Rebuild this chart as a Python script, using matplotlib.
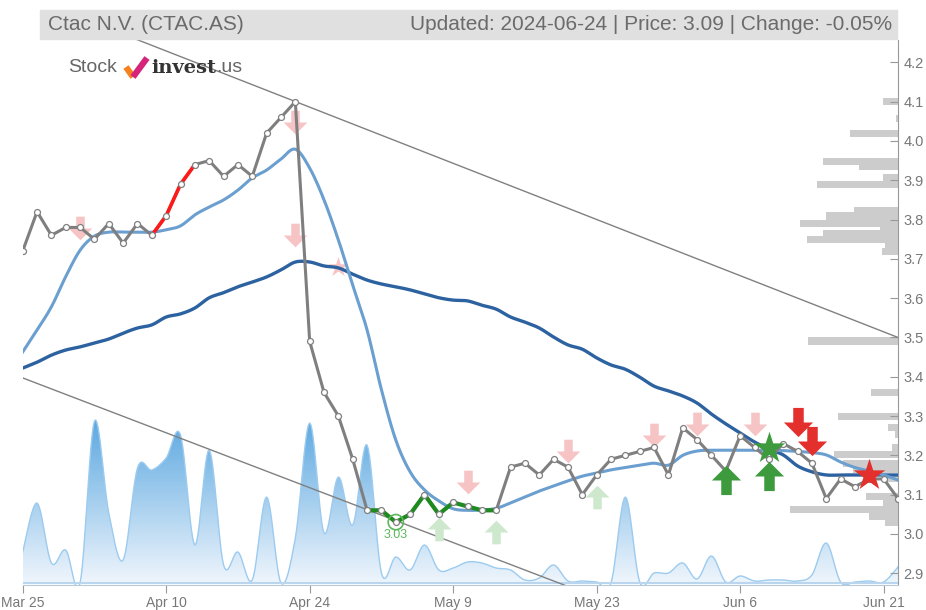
import numpy as np
import matplotlib
matplotlib.use("Agg")
import matplotlib.pyplot as plt
from matplotlib.path import Path
from matplotlib.patches import Rectangle
from matplotlib.lines import Line2D
from matplotlib.colors import LinearSegmentedColormap

plt.rcParams['font.family'] = ['Liberation Sans', 'DejaVu Sans']

# daily closes, Mar 25 .. Jun 24 (trading days)
price = [3.72, 3.82, 3.76, 3.78, 3.78, 3.75, 3.79, 3.74, 3.79, 3.76,
         3.81, 3.89, 3.94, 3.95, 3.91, 3.94, 3.91, 4.02, 4.06, 4.10,
         3.49, 3.36, 3.30, 3.19, 3.06, 3.06, 3.03, 3.05, 3.10, 3.05,
         3.08, 3.07, 3.06, 3.06, 3.17, 3.18, 3.15, 3.19, 3.17, 3.10,
         3.15, 3.19, 3.20, 3.21, 3.22, 3.15, 3.27, 3.24, 3.20, 3.16,
         3.25, 3.22, 3.19, 3.23, 3.21, 3.18, 3.09, 3.14, 3.12, 3.14,
         3.14, 3.09]

ma_short = [3.463, 3.519, 3.578, 3.655, 3.722, 3.758, 3.768, 3.768, 3.768, 3.768,
            3.774, 3.784, 3.812, 3.832, 3.850, 3.875, 3.906, 3.926, 3.954, 3.979,
            3.931, 3.850, 3.748, 3.633, 3.519, 3.367, 3.239, 3.158, 3.112, 3.084,
            3.064, 3.060, 3.061, 3.065, 3.079, 3.094, 3.109, 3.122, 3.135, 3.147,
            3.155, 3.163, 3.169, 3.175, 3.180, 3.175, 3.200, 3.211, 3.213, 3.213,
            3.213, 3.213, 3.213, 3.212, 3.210, 3.207, 3.201, 3.183, 3.169, 3.160,
            3.150, 3.137]

ma_long = [3.422, 3.437, 3.455, 3.468, 3.476, 3.486, 3.496, 3.511, 3.524, 3.532,
           3.552, 3.560, 3.575, 3.601, 3.614, 3.629, 3.641, 3.654, 3.672, 3.692,
           3.692, 3.682, 3.677, 3.661, 3.646, 3.636, 3.629, 3.621, 3.611, 3.601,
           3.595, 3.593, 3.582, 3.572, 3.552, 3.539, 3.524, 3.501, 3.481, 3.470,
           3.448, 3.430, 3.419, 3.399, 3.376, 3.364, 3.351, 3.333, 3.305, 3.280,
           3.257, 3.234, 3.216, 3.201, 3.173, 3.158, 3.150, 3.150, 3.150, 3.150,
           3.150, 3.150]

volume = [31, 80, 20, 33, 0, 162, 70, 23, 115, 113,
          125, 148, 38, 133, 18, 31, 3, 86, 0, 45,
          160, 50, 106, 58, 138, 10, 26, 13, 38, 13,
          15, 21, 20, 15, 13, 3, 5, 18, 2, 2,
          1, 0, 86, 1, 10, 10, 20, 4, 27, 1,
          7, 2, 3, 3, 2, 8, 40, 1, 1, 2,
          1, 16]

profile_price = [4.100, 4.058, 4.018, 3.948, 3.934, 3.907, 3.889, 3.822, 3.809, 3.789,
                 3.774, 3.764, 3.749, 3.734, 3.718, 3.491, 3.361, 3.300, 3.271, 3.252,
                 3.221, 3.201, 3.180, 3.163, 3.141, 3.095, 3.079, 3.061, 3.044, 3.028]
profile_vol = [15, 2, 48, 75, 39, 15, 81, 44, 72, 98,
               18, 75, 91, 13, 16, 90, 27, 60, 10, 3,
               6, 64, 55, 45, 15, 32, 15, 108, 29, 13]

tick_idx = [0, 10, 20, 30, 40, 50, 60]
tick_labels = ['Mar 25', 'Apr 10', 'Apr 24', 'May 9', 'May 23', 'Jun 6', 'Jun 21']
y_ticks = [2.9, 3.0, 3.1, 3.2, 3.3, 3.4, 3.5, 3.6, 3.7, 3.8, 3.9, 4.0, 4.1, 4.2]

# trend channel (index, price)
upper_line = [(0, 4.372), (61, 3.500)]
lower_line = [(0, 3.397), (61, 2.545)]

red_seg = (9, 12)
green_seg = (24, 33)
low_idx = 26

# signal markers: (index, price)
pink_down = [(4, 3.778), (19, 4.048), (19, 3.761), (31, 3.132), (38, 3.211),
             (44, 3.252), (47, 3.280), (51, 3.280)]
pink_star = [(22, 3.679)]
light_up = [(29, 3.012), (33, 3.005), (40, 3.094)]
green_up = [(49, 3.137), (52, 3.147)]
green_star = [(52, 3.218)]
red_down = [(54, 3.285), (55, 3.236)]
red_star = [(59, 3.150)]


def smooth(ys, n=12):
    ys = np.asarray(ys, float)
    xs = np.arange(len(ys), dtype=float)
    px = np.concatenate([[xs[0]], xs, [xs[-1]]])
    py = np.concatenate([[ys[0]], ys, [ys[-1]]])
    ox, oy = [], []
    t = np.linspace(0, 1, n, endpoint=False)
    for i in range(1, len(px) - 2):
        for p, o in ((px, ox), (py, oy)):
            p0, p1, p2, p3 = p[i - 1], p[i], p[i + 1], p[i + 2]
            o.extend(0.5 * (2 * p1 + (-p0 + p2) * t + (2 * p0 - 5 * p1 + 4 * p2 - p3) * t ** 2
                            + (-p0 + 3 * p1 - 3 * p2 + p3) * t ** 3))
    ox.append(xs[-1])
    oy.append(ys[-1])
    return np.array(ox), np.array(oy)


down_arrow = Path([(-0.18, 0.5), (0.18, 0.5), (0.18, 0.0), (0.5, 0.0), (0, -0.5),
                   (-0.5, 0.0), (-0.18, 0.0), (-0.18, 0.5)], closed=True)
up_arrow = Path([(x, -y) for x, y in down_arrow.vertices], closed=True)

W, H = 926, 610
fig = plt.figure(figsize=(W / 100, H / 100), dpi=100)
rect = [22.7 / W, 25 / H, 875.3 / W, 545 / H]
n = len(price)
ylo, yhi = 2.870, 4.257

# volume area
ax_v = fig.add_axes(rect)
ax_v.set_xlim(0, n - 1)
ax_v.set_ylim(-2, 543)
ax_v.axis('off')
vx, vy = smooth(volume)
poly = ax_v.fill_between(vx, vy, 0, color='none')
cmap = LinearSegmentedColormap.from_list('vol', ['#eef5fc', '#5aa7e0'])
grad = np.clip(np.linspace(0, 545, 300) / 165, 0, 1).reshape(-1, 1)
im = ax_v.imshow(grad, extent=[0, n - 1, 0, 545], origin='lower', aspect='auto',
                 cmap=cmap, vmin=0, vmax=1)
im.set_clip_path(poly.get_paths()[0], transform=ax_v.transData)
ax_v.plot(vx, vy, color='#9ccbef', lw=1)
ax_v.axhline(0, color='#b9d6ee', lw=1.5)

# volume profile
ax_p = fig.add_axes(rect)
ax_p.set_xlim(875.3, 0)
ax_p.set_ylim(ylo, yhi)
ax_p.axis('off')
ax_p.barh(profile_price, profile_vol, height=0.018, left=0, color='#cccccc')

# price axes
ax = fig.add_axes(rect)
ax.patch.set_visible(False)
ax.set_xlim(0, n - 1)
ax.set_ylim(ylo, yhi)
for s in ['top', 'left']:
    ax.spines[s].set_visible(False)
ax.spines['right'].set_color('#999999')
ax.spines['bottom'].set_color('#b9c9d8')
ax.yaxis.tick_right()
ax.set_yticks(y_ticks)
ax.set_yticklabels([f'{v:.1f}' for v in y_ticks])
ax.tick_params(axis='y', direction='in', length=6, color='#999999', labelcolor='#777777',
               labelsize=10.5, pad=4)
ax.set_xticks(tick_idx)
ax.set_xticklabels(tick_labels)
ax.tick_params(axis='x', direction='out', length=6, color='#999999', labelcolor='#777777',
               labelsize=10, pad=2)

for line in (upper_line, lower_line):
    ax.plot([line[0][0], line[1][0]], [line[0][1], line[1][1]], color='#808080', lw=1, zorder=2)

sx, sy = smooth(ma_long)
ax.plot(sx, sy, color='#2d62a0', lw=2.4, zorder=3)
sx, sy = smooth(ma_short)
ax.plot(sx, sy, color='#6a9fd0', lw=2.2, zorder=3)


def put(ax, pts, marker, size, color, z):
    ax.scatter([p[0] for p in pts], [p[1] for p in pts], marker=marker, s=size ** 2,
               color=color, linewidths=0, zorder=z)


put(ax, pink_down, down_arrow, 17, '#f6c4c4', 2.5)
put(ax, pink_star, '*', 15, '#f6c4c4', 2.5)
put(ax, light_up, up_arrow, 17, '#cde8cd', 2.5)

idx = np.arange(n)
ax.plot(idx, price, color='#7f7f7f', lw=2.2, zorder=4)
a, b = red_seg
ax.plot(idx[a:b + 1], price[a:b + 1], color='#ff1a1a', lw=2.6, zorder=4.5)
a, b = green_seg
ax.plot(idx[a:b + 1], price[a:b + 1], color='#1f8a1f', lw=3, zorder=4.5)
ax.plot(idx, price, ls='none', marker='o', ms=4.3, mfc='white', mec='#808080', mew=0.9, zorder=5)

ax.scatter([low_idx], [price[low_idx]], s=120, facecolors='none', edgecolors='#5cb85c',
           linewidths=1.2, zorder=5)
ax.text(low_idx, price[low_idx] - 0.032, f'{price[low_idx]:.2f}', color='#5cb85c',
        fontsize=9, ha='center', va='center', zorder=6)

put(ax, green_up, up_arrow, 21, '#3d9a3d', 6)
put(ax, green_star, '*', 24, '#3d9a3d', 6)
put(ax, red_down, down_arrow, 21, '#e3302d', 6)
put(ax, red_star, '*', 24, '#e3302d', 6)

# header bar
fig.patches.append(Rectangle((40 / W, 1 - 39 / H), 857 / W, 29 / H, transform=fig.transFigure,
                             color='#e0e0e0', zorder=0))
fig.text(48 / W, 1 - 24.5 / H, 'Ctac N.V. (CTAC.AS)', color='#6b6b6b', fontsize=15,
         ha='left', va='center')
fig.text(892 / W, 1 - 24.5 / H, 'Updated: 2024-06-24 | Price: 3.09 | Change: -0.05%',
         color='#6b6b6b', fontsize=15, ha='right', va='center')

# logo
t1 = fig.text(68 / W, 1 - 68 / H, 'Stock', color='#666666', fontsize=14, ha='left', va='center')
fig.add_artist(Line2D([126 / W, 133 / W], [1 - 67 / H, 1 - 77 / H], color='#f5821f', lw=4.5,
                      solid_capstyle='butt'))
fig.add_artist(Line2D([133 / W, 147 / W], [1 - 77 / H, 1 - 58 / H], color='#d6247a', lw=4.5,
                      solid_capstyle='butt'))
t2 = fig.text(151 / W, 1 - 68 / H, 'invest', color='#333333', fontsize=14, fontweight='bold',
              family='DejaVu Serif', ha='left', va='center')
fig.canvas.draw()
bb = t2.get_window_extent()
fig.text(bb.x1 / W + 0.5 / W, 1 - 68 / H, '.us', color='#666666', fontsize=14,
         ha='left', va='center')

fig.savefig('out.png', dpi=100)
